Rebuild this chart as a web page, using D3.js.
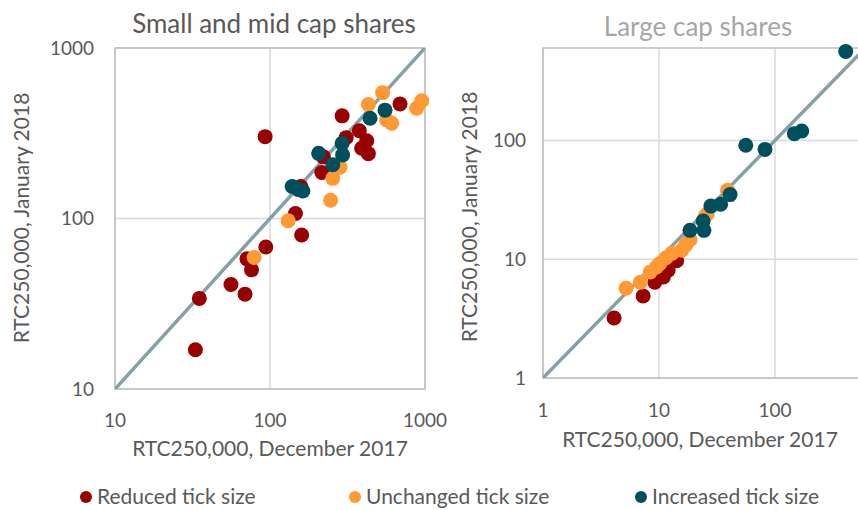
<!DOCTYPE html>
<html>
<head>
<meta charset="utf-8">
<script src="https://cdn.jsdelivr.net/npm/d3@7"></script>
<style>
  body { margin: 0; background: #fff; }
  text { font-family: Lato, "Open Sans", sans-serif; fill: #595959; }
</style>
</head>
<body>
<div id="chart"></div>
<script>
// Small and mid cap shares: [Dec 2017, Jan 2018]
const smallReduced = [
  [93, 302], [292, 400], [690, 470], [310, 298], [377, 327], [421, 286],
  [390, 258], [431, 240], [221, 230], [216, 186], [158, 154], [146, 107],
  [160, 80], [94, 68], [71, 58], [76, 50], [56, 41], [69, 36], [35, 34], [33, 17]
];
const smallUnchanged = [
  [533, 547], [431, 467], [953, 490], [883, 443], [566, 378], [610, 362],
  [283, 200], [254, 172], [246, 128], [131, 97], [79, 59]
];
const smallIncreased = [
  [552, 432], [442, 387], [292, 276], [294, 236], [206, 241], [254, 207],
  [139, 154], [152, 148], [163, 145]
];

// Large cap shares: [Dec 2017, Jan 2018]
const largeReduced = [
  [4.1, 3.2], [7.3, 4.9], [9.2, 6.4], [10.9, 7.1], [12, 8.1], [14.2, 9.7]
];
const largeUnchanged = [
  [39, 38], [25, 23], [18.5, 14.6], [15.7, 11.9], [12.9, 11.2], [10.2, 9.2],
  [8.4, 7.8], [6.9, 6.4], [5.2, 5.7], [9.5, 8.6], [11.5, 10.3], [17, 13.2], [26, 24]
];
const largeIncreased = [
  [407, 560], [56, 91], [82, 84], [147, 114], [170, 120], [41, 35], [34, 29],
  [28, 28], [24, 21], [24.4, 17.5], [18.5, 17.5]
];

const seriesNames = ["Reduced tick size", "Unchanged tick size", "Increased tick size"];
const colors = ["#990000", "#ff9933", "#004f5d"];

const smallTicks = [10, 100, 1000];
const largeTicks = [1, 10, 100];

const svg = d3.select("#chart").append("svg")
  .attr("width", 858)
  .attr("height", 510);

function panel(cfg) {
  const x = d3.scaleLog().domain(cfg.xDomain).range(cfg.xRange);
  const y = d3.scaleLog().domain(cfg.yDomain).range(cfg.yRange);
  const g = svg.append("g");
  const x0 = cfg.xRange[0], x1 = Math.min(cfg.xRange[1], 858);
  const y0 = cfg.yRange[0], y1 = cfg.yRange[1];

  // grid lines
  g.selectAll(".vgrid").data(cfg.xTicks)
    .enter().append("line")
    .attr("x1", d => x(d)).attr("x2", d => x(d))
    .attr("y1", y0).attr("y2", y1)
    .attr("stroke", "#d9d9d9").attr("stroke-width", 1.5);
  g.selectAll(".hgrid").data(cfg.yTicks)
    .enter().append("line")
    .attr("x1", x0).attr("x2", x1)
    .attr("y1", d => y(d)).attr("y2", d => y(d))
    .attr("stroke", "#d9d9d9").attr("stroke-width", 1.5);

  // plot border
  g.append("rect")
    .attr("x", x0).attr("y", y1)
    .attr("width", cfg.xRange[1] - x0).attr("height", y0 - y1)
    .attr("fill", "none").attr("stroke", "#bfbfbf").attr("stroke-width", 1.5);

  // 45 degree line
  const lo = Math.max(cfg.xDomain[0], cfg.yDomain[0]);
  const clipId = "clip" + cfg.id;
  g.append("clipPath").attr("id", clipId)
    .append("rect").attr("x", x0).attr("y", y1)
    .attr("width", cfg.xRange[1] - x0).attr("height", y0 - y1);
  g.append("line")
    .attr("clip-path", `url(#${clipId})`)
    .attr("x1", x(lo)).attr("y1", y(lo))
    .attr("x2", x(1000)).attr("y2", y(1000))
    .attr("stroke", "#86a0a8").attr("stroke-width", 3.5);

  // points
  cfg.series.forEach((s, i) => {
    g.selectAll(".pt" + i).data(s)
      .enter().append("circle")
      .attr("cx", d => x(d[0]))
      .attr("cy", d => y(d[1]))
      .attr("r", 7.5)
      .attr("fill", colors[i]);
  });

  // tick labels
  g.selectAll(".xt").data(cfg.xTicks)
    .enter().append("text")
    .attr("x", d => x(d)).attr("y", cfg.xTickY)
    .attr("text-anchor", "middle")
    .style("font-size", "19px")
    .text(d => d);
  g.selectAll(".yt").data(cfg.yTicks)
    .enter().append("text")
    .attr("x", cfg.yTickX).attr("y", d => y(d))
    .attr("dy", "0.35em")
    .attr("text-anchor", "end")
    .style("font-size", "19px")
    .text(d => d);

  // axis titles
  g.append("text")
    .attr("x", cfg.xTitle[0]).attr("y", cfg.xTitle[1])
    .attr("text-anchor", "middle")
    .style("font-size", "21px")
    .text("RTC250,000, December 2017");
  g.append("text")
    .attr("transform", `translate(${cfg.yTitle[0]},${cfg.yTitle[1]}) rotate(-90)`)
    .attr("text-anchor", "middle")
    .style("font-size", "21px")
    .text("RTC250,000, January 2018");

  // chart title
  g.append("text")
    .attr("x", cfg.title[0]).attr("y", cfg.title[1])
    .attr("text-anchor", "middle")
    .style("font-size", "26px")
    .style("fill", cfg.titleColor)
    .text(cfg.titleText);
}

panel({
  id: "a",
  xDomain: [10, 1000], xRange: [115, 425],
  yDomain: [10, 1000], yRange: [389, 48],
  xTicks: smallTicks, yTicks: smallTicks,
  series: [smallReduced, smallUnchanged, smallIncreased],
  xTickY: 427, yTickX: 94,
  xTitle: [270, 456], yTitle: [29, 218],
  title: [274, 33], titleText: "Small and mid cap shares", titleColor: "#595959"
});

panel({
  id: "b",
  xDomain: [1, 1000], xRange: [543, 891],
  yDomain: [1, 600], yRange: [378, 48],
  xTicks: largeTicks, yTicks: largeTicks,
  series: [largeReduced, largeUnchanged, largeIncreased],
  xTickY: 417, yTickX: 526,
  xTitle: [700, 447], yTitle: [477, 217],
  title: [698, 36], titleText: "Large cap shares", titleColor: "#a6a6a6"
});

// legend
const legendX = [86, 355, 641];
const legend = svg.append("g");
seriesNames.forEach((name, i) => {
  legend.append("circle")
    .attr("cx", legendX[i]).attr("cy", 497)
    .attr("r", 6).attr("fill", colors[i]);
  legend.append("text")
    .attr("x", legendX[i] + 11).attr("y", 497)
    .attr("dy", "0.35em")
    .style("font-size", "21px")
    .text(name);
});
</script>
</body>
</html>
